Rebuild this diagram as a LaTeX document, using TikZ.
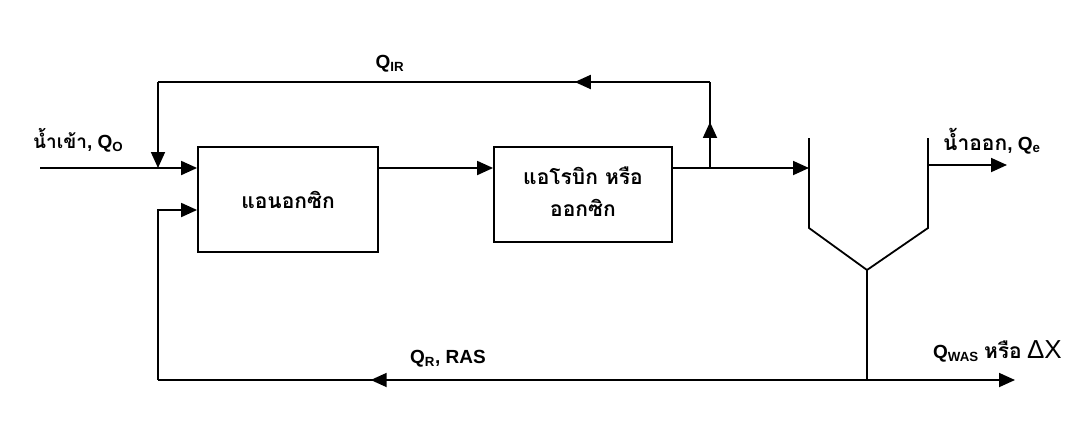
\documentclass[tikz,border=0pt]{standalone}
\usepackage{fontspec}
\setmainfont{Liberation Sans}
\newfontfamily\thai[Script=Thai]{Loma}
\usetikzlibrary{arrows.meta,decorations.markings}
\tikzset{
  tip/.tip={Triangle[length=16pt,width=14pt]},
  line/.style={line width=1.8pt,line join=miter},
  flow/.style={line,-tip},
  midarrow/.style={postaction={decorate,decoration={markings,mark=at position #1 with {\arrow{tip}}}}},
  box/.style={draw,line width=1.8pt,inner sep=0pt,font=\thai\bfseries\fontsize{21}{30}\selectfont,align=center},
  lab/.style={inner sep=0pt,font=\bfseries\fontsize{19}{22}\selectfont},
  thlab/.style={font=\thai\bfseries\fontsize{21}{22}\selectfont},
}
\begin{document}
\begin{tikzpicture}[x=1pt,y=-1pt]
\useasboundingbox (0,0) rectangle (1080,437);
\node[box,minimum width=180pt,minimum height=105pt] (anox) at (288,199.5) {\raisebox{-4pt}{แอนอกซิก}};
\node[box,minimum width=178pt,minimum height=95pt] (aer) at (583,194.5) {\raisebox{-6pt}{\begin{tabular}{c}แอโรบิก หรือ\\[2pt]ออกซิก\end{tabular}}};
% clarifier
\coordinate (cltl) at (809,138);
\coordinate (clbl) at (809,228);
\coordinate (clv) at (867,270);
\coordinate (clbr) at (928,228);
\coordinate (cltr) at (928,138);
\draw[line] (cltl) -- (clbl) -- (clv) -- (clbr) -- (cltr);
% coordinates
\coordinate (in) at (40,168);
\coordinate (j1) at (158,168);
\coordinate (ir0) at (710,168);
\coordinate (ir1) at (710,82);
\coordinate (ir2) at (158,82);
\coordinate (clin) at (809,168);
\coordinate (eff0) at (928,165);
\coordinate (eff1) at (1007,165);
\coordinate (bot) at (867,380);
\coordinate (was) at (1015,380);
\coordinate (bl) at (158,380);
\coordinate (ras) at (158,210);
% flows
\draw[flow] (in) -- (anox.west |- in);
\draw[flow] (anox.east |- in) -- (aer.west |- in);
\draw[flow] (aer.east |- in) -- (clin);
\draw[line,midarrow=0.535] (ir0) -- (ir1);
\draw[line,midarrow=0.245] (ir1) -- (ir2);
\draw[flow] (ir2) -- (j1);
\draw[flow] (eff0) -- (eff1);
\draw[line] (clv) -- (bot);
\draw[flow] (bot) -- (was);
\draw[line,midarrow=0.70] (bot) -- (bl);
\draw[flow] (bl) -- (ras) -- (anox.west |- ras);
% labels
\node[lab,anchor=west] (lin) at (33,140) {{\thai\bfseries น้ำเข้า}, Q\textsubscript{O}};
\node[lab] (lir) at (390,64) {Q\textsubscript{IR}};
\node[lab,anchor=west] (lout) at (943,141) {{\thai\bfseries\fontsize{21}{22}\selectfont น้ำออก}, Q\textsubscript{e}};
\node[lab,anchor=west] (lras) at (410,359) {Q\textsubscript{R}, RAS};
\node[lab,anchor=west] (lwas) at (933,351) {Q\textsubscript{WAS} {\thai\bfseries\fontsize{21}{22}\selectfont หรือ} {\mdseries\fontsize{26}{26}\selectfont ΔX}};
\end{tikzpicture}
\end{document}
